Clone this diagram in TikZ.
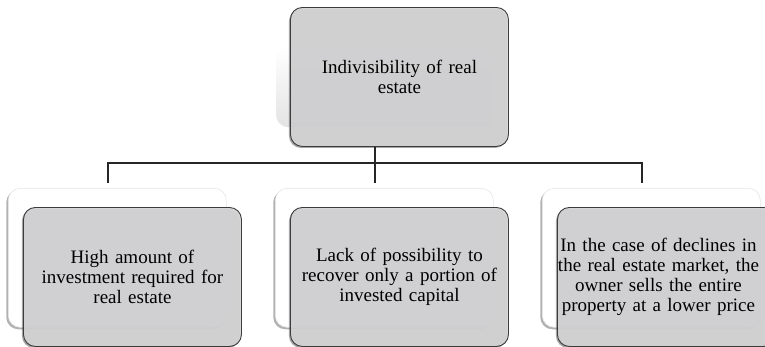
\documentclass[tikz,border=0pt]{standalone}
\usepackage{fontspec}
\setmainfont{Liberation Serif}
\usetikzlibrary{shadows}
\definecolor{boxgray}{HTML}{D4D4D6}
\definecolor{boxline}{HTML}{3C3C3C}
\begin{document}
\begin{tikzpicture}[x=1pt,y=-1pt,
  graybox/.style={anchor=north west, rounded corners=12pt, fill=boxgray, fill opacity=0.92, text opacity=1,
    draw=boxline, line width=0.9pt, minimum width=218pt, minimum height=139pt,
    text width=212pt, align=center, font=\fontsize{19}{20}\selectfont, inner sep=0pt,
    drop shadow={shadow xshift=-1.5pt, shadow yshift=-1.5pt, opacity=0.35, fill=black}},
  backbox/.style={anchor=north west, rounded corners=12pt, fill=white, draw=gray!20, line width=0.6pt,
    minimum width=218pt, minimum height=139pt, inner sep=0pt,
    drop shadow={shadow xshift=-2pt, shadow yshift=-2pt, opacity=0.3, fill=black}},
  conn/.style={draw=black!85, line width=1.1pt}]
\useasboundingbox (0,0) rectangle (765,346);
\begin{scope}
\clip (0,0) rectangle (765,346);
% top back glow
\node[anchor=north west, rounded corners=12pt, minimum width=217pt, minimum height=80pt, inner sep=0pt,
  top color=white, bottom color=gray!22] (topback) at (276,47) {};
\node[graybox] (top) at (290,7) {Indivisibility of real\\estate};
% bottom back boxes
\node[backbox] (b1back) at (8,188) {};
\node[backbox] (b2back) at (275,188) {};
\node[backbox] (b3back) at (542,188) {};
% bottom gray boxes
\node[graybox] (b1) at (23,207) {High amount of\\investment required for\\real estate};
\node[graybox] (b2) at (290,207) {Lack of possibility to\\recover only a portion of\\invested capital};
\node[graybox] (b3) at (557,207) {\hspace*{-16pt}In the case of declines in\\\hspace*{-16pt}the real estate market, the\\\hspace*{-16pt}owner sells the entire\\\hspace*{-16pt}property at a lower price};
\end{scope}
% connectors
\coordinate (hub) at (375,163);
\coordinate (hl) at (108,163);
\coordinate (hr) at (642,163);
\coordinate (d1) at (108,183);
\coordinate (d2) at (375,183);
\coordinate (d3) at (642,183);
\draw[conn] (top.south -| hub) -- (hub);
\draw[conn] (d1) -- (hl) -- (hr) -- (d3);
\draw[conn] (hub) -- (d2);
\end{tikzpicture}
\end{document}
